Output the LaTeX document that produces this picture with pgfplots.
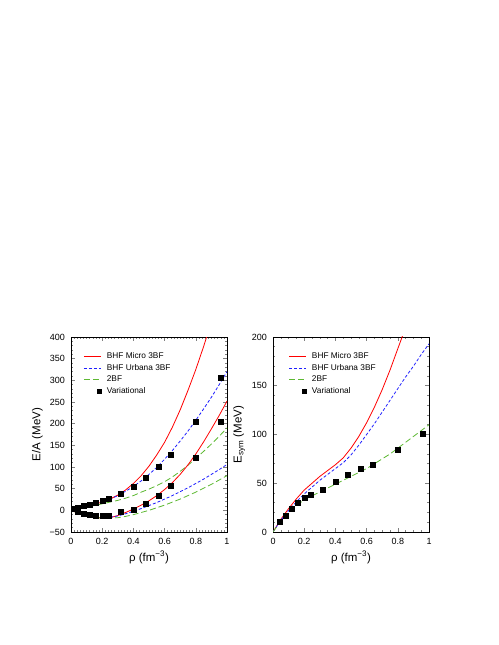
\documentclass[border=0pt]{standalone}
\usepackage{fontspec}
\setmainfont{Liberation Sans}
\usepackage{pgfplots}
\pgfplotsset{compat=1.18}
\definecolor{cred}{HTML}{FF0000}
\definecolor{cblue}{HTML}{1E1EFF}
\definecolor{cgreen}{HTML}{5DB832}
\pgfplotsset{nm/.style={
  scale only axis, width=156pt, height=195pt,
  xmin=0, xmax=1,
  tick align=inside, tick pos=both,
  major tick length=4pt, minor tick length=2pt,
  tick style={line width=0.5pt},
  axis line style={line width=0.6pt},
  /pgf/number format/assume math mode=true,
  tick label style={font=\fontsize{9}{10}\selectfont},
  xticklabel style={yshift=-2.5pt},
  yticklabel style={xshift=-2.5pt},
  label style={font=\fontsize{11.5}{13}\selectfont},
  xtick={0,0.2,0.4,0.6,0.8,1}, xticklabels={0,0.2,0.4,0.6,0.8,1},
  xlabel={ρ (fm\textsuperscript{−3})},
  legend style={draw=none, fill=none, font=\fontsize{8.3}{9}\selectfont,
    row sep=0pt, anchor=north west},
  legend cell align=left,
  every axis plot/.append style={line width=0.8pt},
}}
\pgfplotsset{
  ln/.style={legend image code/.code={\draw[##1] (0pt,0pt) -- (17pt,0pt);
      \path (20.5pt,0pt);}},
  sq/.style={only marks, mark=square*, mark size=2.5pt, black,
    mark options={line width=0.3pt},
    legend image code/.code={\draw[##1, mark size=2pt] plot coordinates {(15.5pt,0pt)};
      \path (0pt,0pt) (20.5pt,0pt);}},
  mred/.style={cred, ln},
  mblue/.style={cblue, ln, dash pattern=on 3pt off 2pt},
  mgreen/.style={cgreen, ln, dash pattern=on 6pt off 3pt},
}
\begin{document}
\begin{tikzpicture}
\useasboundingbox (0,0) rectangle (498pt,645pt);

% energy per particle, symmetric (lower) and neutron matter (upper)
\begin{axis}[nm, at={(71pt,113pt)}, anchor=south west,
  ymin=-50, ymax=400,
  ytick={-50,0,50,100,150,200,250,300,350,400},
  yticklabels={−50,0,50,100,150,200,250,300,350,400},
  minor x tick num=9, minor y tick num=4,
  ylabel={E/A (MeV)},
  legend style={at={(0.06,0.94)}},
]
\addplot[mred] coordinates {
  (0,0) (0.05,5) (0.1,9) (0.15,14) (0.2,19) (0.25,26) (0.3,35) (0.35,47)
  (0.4,62) (0.45,80) (0.5,102) (0.55,128) (0.6,157) (0.65,192) (0.7,232)
  (0.75,277) (0.8,325) (0.85,378) (0.88,412)};
\addlegendentry{BHF Micro 3BF}
\addplot[mblue] coordinates {
  (0,0) (0.05,5) (0.1,9) (0.15,14) (0.2,19) (0.25,26) (0.3,34) (0.35,44)
  (0.4,55) (0.45,68) (0.5,83) (0.55,99) (0.6,118) (0.65,138) (0.7,160)
  (0.75,183) (0.8,208) (0.85,234) (0.9,261) (0.95,290) (1,320)};
\addlegendentry{BHF Urbana 3BF}
\addplot[mgreen] coordinates {
  (0,0) (0.05,4) (0.1,8) (0.15,11) (0.2,15) (0.25,19) (0.3,23) (0.35,28)
  (0.4,34) (0.45,42) (0.5,49) (0.55,57) (0.6,66) (0.65,77) (0.7,90)
  (0.75,104) (0.8,120) (0.85,136) (0.9,153) (0.95,171) (1,190)};
\addlegendentry{2BF}
\addplot[sq] coordinates {
  (0.02,3) (0.04,6) (0.08,10) (0.12,14) (0.16,18) (0.2,23) (0.24,28)
  (0.32,39) (0.4,55) (0.48,75) (0.56,100) (0.64,128) (0.8,205) (0.96,306)};
\addlegendentry{Variational}
\addplot[mred, forget plot] coordinates {
  (0,0) (0.05,-7) (0.1,-12) (0.15,-16) (0.2,-18) (0.25,-17) (0.3,-12)
  (0.35,-5) (0.4,3) (0.45,12) (0.5,22) (0.55,34) (0.6,48) (0.65,64)
  (0.7,83) (0.75,105) (0.8,130) (0.85,158) (0.9,188) (0.95,219) (1,252)};
\addplot[mblue, forget plot] coordinates {
  (0,0) (0.05,-7) (0.1,-12) (0.15,-15) (0.2,-17) (0.25,-16) (0.3,-13)
  (0.35,-8) (0.4,-2) (0.45,4) (0.5,11) (0.55,18) (0.6,26) (0.65,34)
  (0.7,43) (0.75,52) (0.8,62) (0.85,72) (0.9,83) (0.95,94) (1,106)};
\addplot[mgreen, forget plot] coordinates {
  (0,0) (0.05,-7) (0.1,-12) (0.15,-16) (0.2,-18) (0.25,-18) (0.3,-17)
  (0.35,-14) (0.4,-10) (0.45,-5) (0.5,0) (0.55,6) (0.6,12) (0.65,19)
  (0.7,26) (0.75,34) (0.8,42) (0.85,51) (0.9,60) (0.95,70) (1,80)};
\addplot[sq, forget plot] coordinates {
  (0.04,-3) (0.08,-8) (0.12,-11) (0.16,-12) (0.2,-12.5) (0.24,-12)
  (0.32,-4) (0.4,2) (0.48,15) (0.56,35) (0.64,58) (0.8,121) (0.96,204)};
\end{axis}

% symmetry energy
\begin{axis}[nm, at={(273pt,113pt)}, anchor=south west,
  ymin=0, ymax=200,
  ytick={0,50,100,150,200},
  yticklabels={0,50,100,150,200},
  minor x tick num=3, minor y tick num=4,
  ylabel={E\textsubscript{sym} (MeV)},
  legend style={at={(0.08,0.94)}},
]
\addplot[mred] coordinates {
  (0,0) (0.05,13) (0.1,24) (0.15,34) (0.2,43) (0.25,50) (0.3,57) (0.35,63)
  (0.4,69) (0.45,76) (0.5,86) (0.55,98) (0.6,112) (0.65,128) (0.7,146)
  (0.75,166) (0.8,188) (0.83,201)};
\addlegendentry{BHF Micro 3BF}
\addplot[mblue] coordinates {
  (0,0) (0.05,12) (0.1,22) (0.15,31) (0.2,39) (0.25,46) (0.3,53) (0.35,59)
  (0.4,65) (0.45,71) (0.5,79) (0.55,89) (0.6,100) (0.65,111) (0.7,123)
  (0.75,135) (0.8,147) (0.85,159) (0.9,170) (0.95,182) (1,193)};
\addlegendentry{BHF Urbana 3BF}
\addplot[mgreen] coordinates {
  (0,0) (0.05,11) (0.1,20) (0.15,27) (0.2,33) (0.25,37) (0.3,41) (0.35,45)
  (0.4,49) (0.45,53) (0.5,57) (0.55,61) (0.6,65) (0.65,70) (0.7,75)
  (0.75,80) (0.8,86) (0.85,92) (0.9,98) (0.95,104) (1,110)};
\addlegendentry{2BF}
\addplot[sq] coordinates {
  (0.04,11) (0.08,17) (0.12,24) (0.16,30) (0.2,35) (0.24,38) (0.32,43)
  (0.4,52) (0.48,59) (0.56,65) (0.64,69) (0.8,84) (0.96,101)};
\addlegendentry{Variational}
\end{axis}
\end{tikzpicture}
\end{document}
